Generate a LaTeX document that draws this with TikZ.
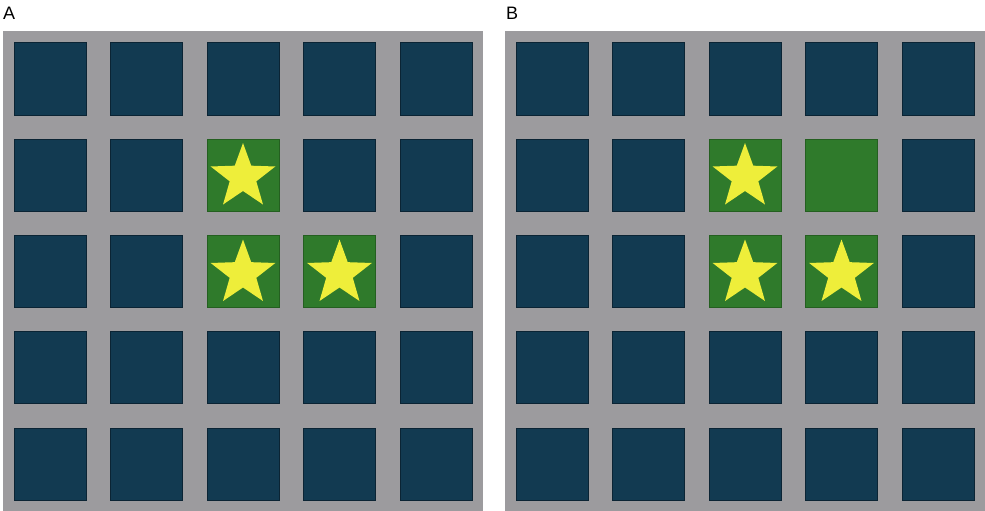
\documentclass[tikz,border=0pt]{standalone}
\usepackage{fontspec}
\setmainfont{Liberation Sans}
\definecolor{bggray}{HTML}{9C9B9E}
\definecolor{cellblue}{HTML}{123A51}
\definecolor{cellblueedge}{HTML}{0B2434}
\definecolor{cellgreen}{HTML}{2F7A2B}
\definecolor{cellgreenedge}{HTML}{245F20}
\definecolor{staryellow}{HTML}{EEEE3A}
\begin{document}
\begin{tikzpicture}[x=1pt,y=-1pt,
  panel/.style={fill=bggray,draw=none},
  bluecell/.style={rectangle,fill=cellblue,draw=cellblueedge,line width=1pt,minimum size=72pt,inner sep=0pt},
  greencell/.style={rectangle,fill=cellgreen,draw=cellgreenedge,line width=1pt,minimum size=72pt,inner sep=0pt},
  starfill/.style={fill=staryellow,draw=none},
  lab/.style={anchor=base west,inner sep=0pt,font=\fontsize{18pt}{21pt}\selectfont}]
\useasboundingbox (0,0) rectangle (985,511);
\fill[white] (0,0) rectangle (985,511);
% panels
\fill[panel] (3,31) rectangle (483,511);
\fill[panel] (505,31) rectangle (985,511);
\node[lab] (labA) at (3,20) {A};
\node[lab] (labB) at (506,20) {B};
% cells
\foreach \p/\x in {A/50,B/552}{
  \foreach \i in {0,...,4}{
    \foreach \j in {0,...,4}{
      \node[bluecell] (\p-\i-\j) at ({\x+96.5*\i},{79+96.3*\j}) {};
    }
  }
}
% green cells
\foreach \p/\x in {A/50,B/552}{
  \node[greencell] (\p-g1) at ({\x+96.5*2},{79+96.3*1}) {};
  \node[greencell] (\p-g2) at ({\x+96.5*2},{79+96.3*2}) {};
  \node[greencell] (\p-g3) at ({\x+96.5*3},{79+96.3*2}) {};
}
\node[greencell] (B-g4) at ({552+96.5*3},{79+96.3*1}) {};
% stars
\foreach \cx/\cy in {243/177, 243/273.5, 339.5/273.5, 745/177, 745/273.5, 841.5/273.5}{
  \begin{scope}[shift={(\cx,\cy)},yscale=-1]
    \fill[starfill] (90:34) -- (126:14) -- (162:34) -- (198:14) -- (234:34)
      -- (270:14) -- (306:34) -- (342:14) -- (18:34) -- (54:14) -- cycle;
  \end{scope}
}
\end{tikzpicture}
\end{document}
